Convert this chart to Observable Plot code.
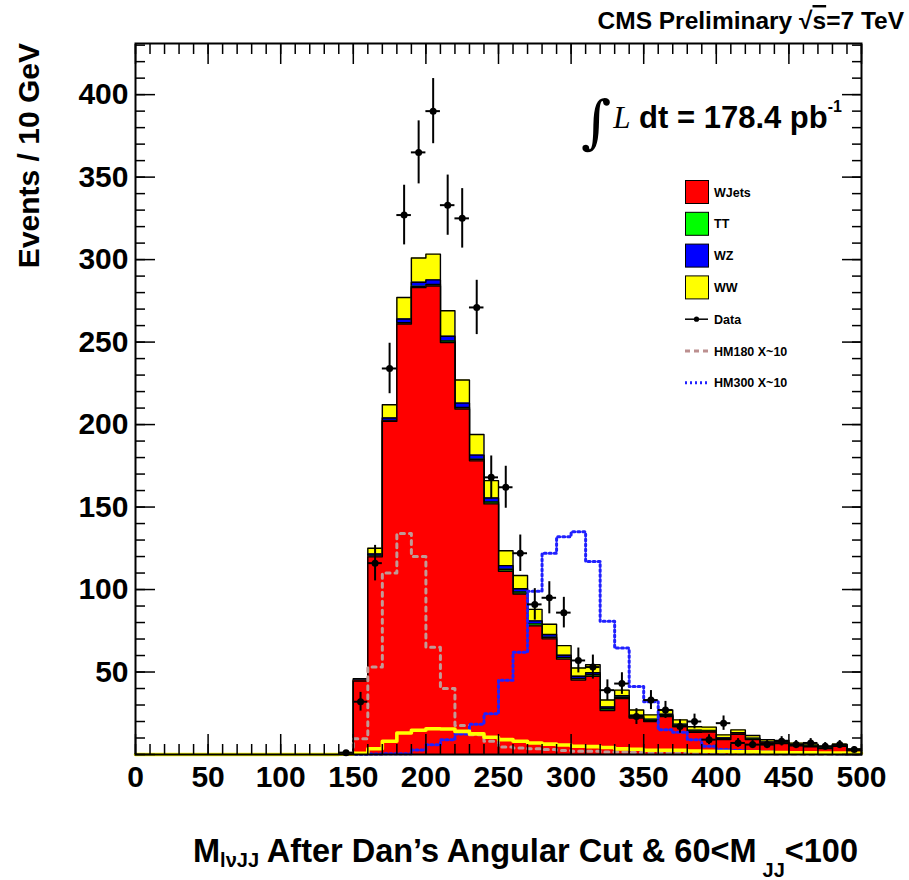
<!DOCTYPE html>
<html>
<head>
<meta charset="utf-8">
<script src="https://cdn.jsdelivr.net/npm/d3@7"></script>
<script src="https://cdn.jsdelivr.net/npm/@observablehq/plot@0.6"></script>
<style>
  html, body { margin: 0; padding: 0; background: #fff; }
  #wrap { position: relative; width: 909px; height: 880px; }
</style>
</head>
<body>
<div id="wrap"></div>
<script>
// ---- bins (lower edges, GeV) ----
const binLow = [0,10,20,30,40,50,60,70,80,90,100,110,120,130,140,150,160,170,180,190,
  200,210,220,230,240,250,260,270,280,290,300,310,320,330,340,350,360,370,380,390,
  400,410,420,430,440,450,460,470,480,490];
const binWidth = 10;

// ---- stacked backgrounds (events / bin) ----
const wjets = [0,0,0,0,0,0,0,0,0,0,0,0,0,0,
  1,44.5,119.8,202,261,283,284,249.7,209.4,178,151.9,111.1,97.3,78,70.1,57.8,45.1,47.4,26.7,33.9,
  22.1,20,23,17.1,13.5,13.6,9.1,12.2,9.1,6.8,6.7,5.2,4.7,3.6,5.0,2.2];
const ttbar = [0,0,0,0,0,0,0,0,0,0,0,0,0,0,
  0,0.3,0.5,0.5,0.7,0.8,0.9,1,1,1,1.2,1.2,1.2,1.2,1,1,1,1,1,0.8,
  0.8,0.7,0.7,0.6,0.6,0.5,0.5,0.5,0.4,0.4,0.3,0.3,0.3,0.2,0.2,0.2];
const wz = [0,0,0,0,0,0,0,0,0,0,0,0,0,0,
  0,0.4,1.2,1.5,2.3,2.5,2.8,2.8,2.6,2.5,2.4,2.2,2,1.8,1.6,1.4,1.3,1.2,1.1,0.9,
  0.9,0.7,0.7,0.7,0.6,0.5,0.5,0.5,0.4,0.4,0.3,0.3,0.3,0.2,0.2,0.2];
const ww = [0,0,0,0,0,0,0,0,0,0,0,0,0,0,
  0.2,0.8,3.5,8,13,14.7,15.6,15.5,14,12.5,10.5,9,8,7,6.3,5.8,5,4.8,4.2,3.4,
  3.2,2.6,2.6,2.6,2.1,2,1.8,1.7,1.6,1.3,1.2,1.1,1,0.9,0.9,0.8];

// ---- signal templates (x~10) ----
const hm180 = [0,0,0,0,0,0,0,0,0,0,0,0,0,0,
  0.5,9.5,53,110,134,120,65,40,17.6,12,8,4.5,4,3.5,3,2.5,2,2,1.5,1.5,
  1.2,1,1,0.8,0.7,0.6,0.5,0.5,0.4,0.4,0.3,0.3,0.2,0.2,0.2,0.1];
const hm300 = [0,0,0,0,0,0,0,0,0,0,0,0,0,0,
  0,0.2,0.3,0.4,0.5,2.8,5.9,8.9,12.5,18.4,24.7,45,62,99,122,132,135,117,80.7,64.5,
  41.2,32,15,13.5,9,5,3,2.5,2,1.5,1.2,1,0.8,0.6,0.5,0.4];

// ---- data ----
const dataX = [145,155,165,175,185,195,205,215,225,235,245,255,265,275,285,295,305,315,325,335,
  345,355,365,375,385,395,405,415,425,435,445,455,465,475,485,495];
const dataY = [1,32,116,234,327,365,390,333,325,271,168,162,122,91,95,86,57,53,39,43,
  23,33,27,17,20,9,19,7,6,6,8,6,7,5,6,3];

// ---- axis ticks ----
const xTickLabels = [0,50,100,150,200,250,300,350,400,450,500];
const yTickLabels = [50,100,150,200,250,300,350,400];
const xMinor = d3.range(0, 501, 10);
const yMinor = d3.range(0, 431, 10);
const yMajor = [0,50,100,150,200,250,300,350,400];

// ---- derived ----
const cumTT = wjets.map((v, i) => v + ttbar[i]);
const cumWZ = cumTT.map((v, i) => v + wz[i]);
const cumWW = cumWZ.map((v, i) => v + ww[i]);
function steps(vals) {
  const pts = binLow.map((x, i) => ({x, y: vals[i]}));
  pts.push({x: binLow[binLow.length - 1] + binWidth, y: vals[vals.length - 1]});
  return pts;
}
const pts = dataX.map((x, i) => ({x, y: dataY[i]}));

const layers = [
  {vals: cumWW, fill: "#ffff00"},
  {vals: cumWZ, fill: "#0000ff"},
  {vals: cumTT, fill: "#00ff00"},
  {vals: wjets, fill: "#ff0000"}
];

const font = "'Liberation Sans', Arial, Helvetica, sans-serif";
const marks = [];
for (const L of layers) {
  const s = steps(L.vals);
  marks.push(Plot.areaY(s, {x: "x", y1: 0, y2: "y", curve: "step-after", fill: L.fill}));
  marks.push(Plot.line(s, {x: "x", y: "y", curve: "step-after", stroke: "#000", strokeWidth: 1.4}));
}
marks.push(
  Plot.line(steps(hm180), {x: "x", y: "y", curve: "step-after", stroke: "#c09a96", strokeWidth: 3, strokeDasharray: "4,5"}),
  Plot.line(steps(hm300), {x: "x", y: "y", curve: "step-after", stroke: "#2020ff", strokeWidth: 3, strokeDasharray: "2,3"}),
  Plot.line(steps(ww), {x: "x", y: "y", curve: "step-after", stroke: "#ffff00", strokeWidth: 3.6}),
  Plot.ruleX(pts, {x: "x", y1: d => d.y - Math.sqrt(d.y), y2: d => d.y + Math.sqrt(d.y), stroke: "#000", strokeWidth: 2}),
  Plot.ruleY(pts, {y: "y", x1: d => d.x - binWidth / 2, x2: d => d.x + binWidth / 2, stroke: "#000", strokeWidth: 2}),
  Plot.dot(pts, {x: "x", y: "y", r: 3.5, fill: "#000", stroke: "none"}),
  // ticks: inward, all four sides
  Plot.axisX(xTickLabels, {anchor: "bottom", tickSize: 20, dy: -20, fill: "none", label: null, strokeWidth: 1.5}),
  Plot.axisX(xMinor, {anchor: "bottom", tickSize: 10, dy: -10, fill: "none", label: null, strokeWidth: 1.5}),
  Plot.axisX(xTickLabels, {anchor: "top", tickSize: 20, dy: 20, fill: "none", label: null, strokeWidth: 1.5}),
  Plot.axisX(xMinor, {anchor: "top", tickSize: 10, dy: 10, fill: "none", label: null, strokeWidth: 1.5}),
  Plot.axisY(yMajor, {anchor: "left", tickSize: 20, dx: 20, fill: "none", label: null, strokeWidth: 1.5}),
  Plot.axisY(yMinor, {anchor: "left", tickSize: 10, dx: 10, fill: "none", label: null, strokeWidth: 1.5}),
  Plot.axisY(yMajor, {anchor: "right", tickSize: 20, dx: -20, fill: "none", label: null, strokeWidth: 1.5}),
  Plot.axisY(yMinor, {anchor: "right", tickSize: 10, dx: -10, fill: "none", label: null, strokeWidth: 1.5}),
  // tick labels
  Plot.axisX(xTickLabels, {anchor: "bottom", tickSize: 0, tickPadding: 11, label: null, fontSize: 30, fontWeight: "bold", tickFormat: d => String(d)}),
  Plot.axisY(yTickLabels, {anchor: "left", tickSize: 0, tickPadding: 7, label: null, fontSize: 30, fontWeight: "bold", tickFormat: d => String(d)}),
  Plot.frame({stroke: "#000", strokeWidth: 2})
);

const chart = Plot.plot({
  width: 909,
  height: 880,
  marginLeft: 135,
  marginRight: 48,
  marginTop: 43,
  marginBottom: 126,
  x: {domain: [0, 500]},
  y: {domain: [0, 431]},
  style: {fontFamily: font, color: "#000", background: "#fff", overflow: "visible"},
  marks
});
document.getElementById("wrap").appendChild(chart);

// ---- annotations, titles and legend ----
const svg = d3.select(chart);
const g = svg.append("g").attr("font-family", font).attr("font-weight", "bold")
  .attr("fill", "#000").attr("text-anchor", "start");

// y title
g.append("text")
  .attr("transform", "translate(39,43) rotate(-90)")
  .attr("text-anchor", "end")
  .attr("font-size", 30)
  .text("Events / 10 GeV");

// x title
const xt = g.append("text").attr("x", 858).attr("y", 862).attr("text-anchor", "end").attr("font-size", 32.5);
xt.append("tspan").text("M");
xt.append("tspan").attr("font-size", 20).attr("dy", 5).text("lνJJ");
xt.append("tspan").attr("dy", -5).text(" After Dan\u2019s Angular Cut & 60<M");
xt.append("tspan").attr("font-size", 20).attr("dy", 15).attr("dx", 6).text("JJ");
xt.append("tspan").attr("dy", -15).text("<100");

// CMS label
const cms = g.append("text").attr("x", 904).attr("y", 29).attr("text-anchor", "end").attr("font-size", 24.5);
cms.append("tspan").text("CMS Preliminary \u221A");
cms.append("tspan").style("text-decoration", "overline").text("s");
cms.append("tspan").text("=7 TeV");

// luminosity
const lum = g.append("text").attr("x", 581).attr("y", 128).attr("font-size", 31).attr("text-anchor", "start");
lum.append("tspan").attr("font-family", "'DejaVu Serif', 'Liberation Serif', serif").attr("font-weight", "normal").attr("font-size", 58).attr("dy", 14).text("\u222B");
lum.append("tspan").attr("font-family", "'Liberation Serif', 'Times New Roman', serif").attr("font-weight", "normal").attr("font-style", "italic").attr("dy", -14).attr("dx", 2).text("L");
lum.append("tspan").text(" dt = 178.4 pb");
lum.append("tspan").attr("font-size", 16).attr("dy", -16).text("-1");

// legend
const legendItems = [
  {label: "WJets", type: "box", color: "#ff0000"},
  {label: "TT", type: "box", color: "#00ff00"},
  {label: "WZ", type: "box", color: "#0000ff"},
  {label: "WW", type: "box", color: "#ffff00"},
  {label: "Data", type: "data"},
  {label: "HM180 X~10", type: "line", color: "#bc8f8f", dash: "5,4"},
  {label: "HM300 X~10", type: "line", color: "#2020ff", dash: "2,3"}
];
const lg = g.append("g");
legendItems.forEach((it, i) => {
  const cy = 192 + i * 31.8;
  const row = lg.append("g").attr("transform", `translate(685,${cy})`);
  if (it.type === "box") {
    row.append("rect").attr("x", 0.5).attr("y", -11.5).attr("width", 23).attr("height", 23)
      .attr("fill", it.color).attr("stroke", "#000").attr("stroke-width", 1);
  } else if (it.type === "data") {
    row.append("line").attr("x1", 0).attr("x2", 23).attr("y1", 0).attr("y2", 0).attr("stroke", "#000").attr("stroke-width", 1.5);
    row.append("circle").attr("cx", 11.5).attr("cy", 0).attr("r", 2.6).attr("fill", "#000");
  } else {
    row.append("line").attr("x1", 0).attr("x2", 23).attr("y1", 0).attr("y2", 0).attr("stroke", it.color)
      .attr("stroke-width", 3).attr("stroke-dasharray", it.dash);
  }
  row.append("text").attr("x", 29).attr("y", 4.5).attr("font-size", 12.5).attr("text-anchor", "start").text(it.label);
});
</script>
</body>
</html>
